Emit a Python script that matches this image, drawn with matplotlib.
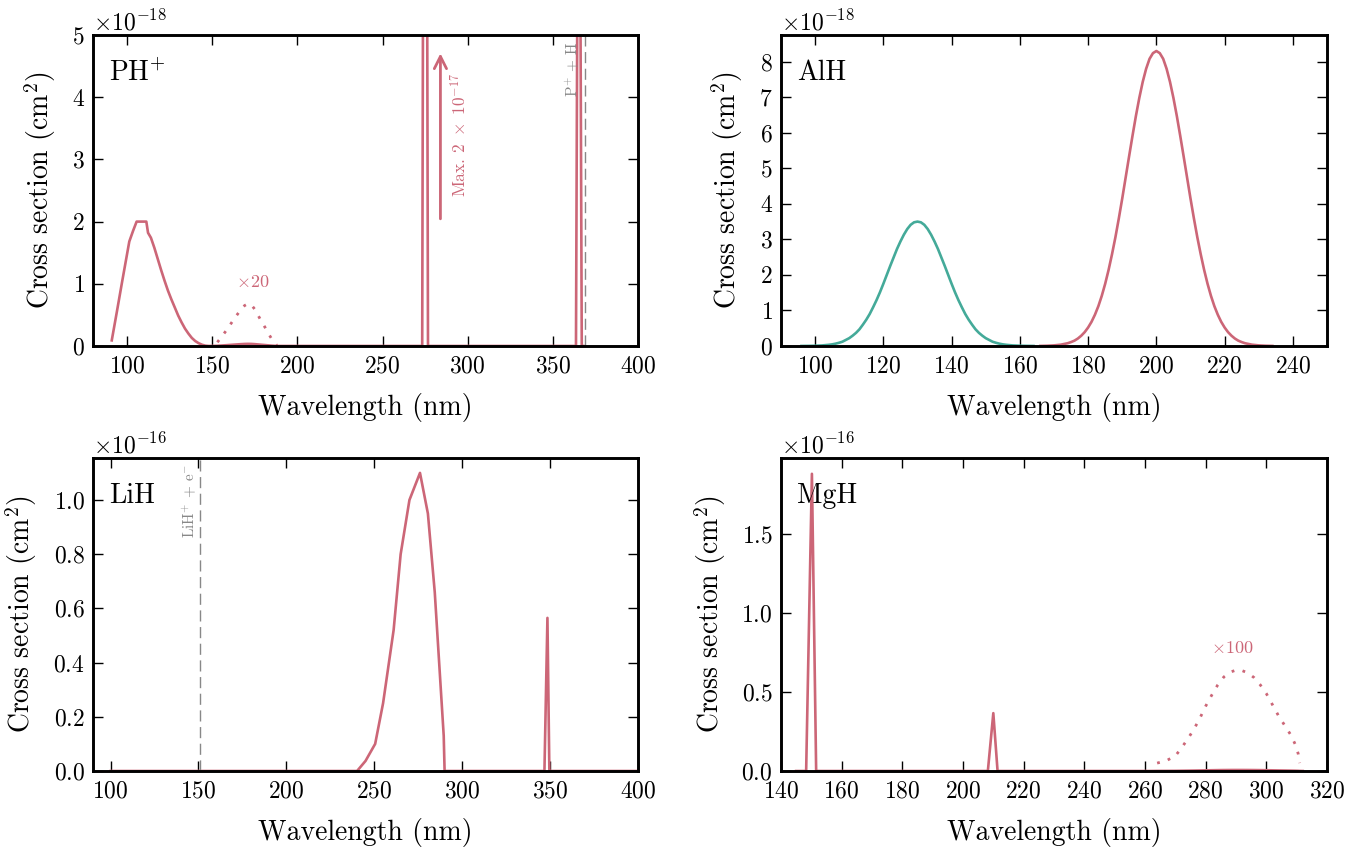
import matplotlib.pyplot as plt
from matplotlib.ticker import MultipleLocator

plt.rcParams.update({
    'font.family': 'serif',
    'font.serif': ['cmr10'],
    'mathtext.fontset': 'cm',
    'axes.formatter.use_mathtext': True,
    'axes.unicode_minus': False,
    'xtick.direction': 'in', 'ytick.direction': 'in',
    'xtick.top': True, 'ytick.right': True,
    'xtick.major.size': 7.5, 'ytick.major.size': 7.5,
    'xtick.major.width': 1.0, 'ytick.major.width': 1.0,
    'xtick.major.pad': 7, 'ytick.major.pad': 6,
    'xtick.labelsize': 17, 'ytick.labelsize': 17,
    'axes.linewidth': 2.1,
    'axes.labelsize': 20,
})

red = '#CC6677'
teal = '#44AA99'
grey = '#888888'

# PH+ (units of 1e-18 cm^2)
ph_main_wl = [91, 94, 97, 100, 101.3, 103.5, 105.6, 111.3, 112.3, 114, 116, 118, 120, 122, 124,
              126, 128, 130, 132, 134, 136, 138, 140, 142, 144, 146, 148]
ph_main_cs = [0.09, 0.55, 1.02, 1.48, 1.68, 1.85, 2.0, 2.0, 1.82, 1.74, 1.58, 1.40, 1.22, 1.05, 0.89,
              0.75, 0.62, 0.49, 0.38, 0.28, 0.20, 0.13, 0.08, 0.045, 0.02, 0.005, 0.0]
ph_bump_wl = [153, 155, 158, 161, 164, 167, 169, 171, 173, 175, 177, 179, 181, 183, 185, 187, 188]
ph_bump_x20 = [0.06, 0.13, 0.24, 0.36, 0.48, 0.59, 0.65, 0.68, 0.66, 0.59, 0.49, 0.39, 0.30,
               0.20, 0.11, 0.04, 0.01]
ph_lines_wl = [273.3, 275, 276.7, 363.6, 365.3, 367, 368]
ph_lines_cs = [0, 20, 0, 0, 12, 0, 0]
ph_threshold = 369

# AlH (units of 1e-18 cm^2), one side of each band, bands are symmetric
alh_offsets = [0, 1, 2, 3, 4, 5, 6, 7, 8, 9, 10, 11, 12, 13, 14, 15, 16, 17, 18, 19, 20,
               21, 22, 23, 24, 25, 26, 28, 30, 32, 34]
alh_half_a = [3.50, 3.48, 3.41, 3.29, 3.13, 2.94, 2.73, 2.49, 2.25, 2.00, 1.75, 1.51, 1.29, 1.09,
              0.90, 0.74, 0.60, 0.47, 0.37, 0.29, 0.22, 0.17, 0.12, 0.09, 0.065, 0.046, 0.033,
              0.015, 0.007, 0.003, 0.001]
alh_half_b = [8.30, 8.24, 8.08, 7.80, 7.43, 6.98, 6.47, 5.91, 5.33, 4.74, 4.15, 3.59, 3.06, 2.58,
              2.14, 1.75, 1.41, 1.12, 0.88, 0.68, 0.52, 0.39, 0.29, 0.21, 0.15, 0.11, 0.077,
              0.037, 0.017, 0.007, 0.002]
alh_peak_a = 130
alh_peak_b = 200

# LiH (units of 1e-16 cm^2)
lih_wl = [100, 240.2, 245, 250.5, 255, 261, 265, 270, 276, 280.5, 284.4, 289.5, 290,
          346.8, 348.5, 349.6, 400]
lih_cs = [0, 0, 0.037, 0.10, 0.25, 0.52, 0.80, 1.0, 1.10, 0.95, 0.66, 0.13, 0,
          0, 0.565, 0, 0]
lih_threshold = 151

# MgH (units of 1e-16 cm^2)
mgh_lines_wl = [145, 148.3, 150.2, 151.6, 208.2, 210.0, 211.4, 262]
mgh_lines_cs = [0, 0, 1.88, 0, 0, 0.366, 0, 0]
mgh_bump_wl = [264, 267, 270, 272, 274, 276, 278, 280, 282, 284, 286, 288, 290, 292, 294, 296,
               298, 300, 302, 304, 306, 308, 309.5, 310.5, 311]
mgh_bump_x100 = [0.05, 0.065, 0.095, 0.145, 0.20, 0.26, 0.33, 0.41, 0.48, 0.545, 0.595, 0.625,
                 0.638, 0.635, 0.62, 0.59, 0.545, 0.49, 0.42, 0.35, 0.29, 0.23, 0.17, 0.11, 0.05]

fig = plt.figure(figsize=(13.62, 8.48), dpi=100)
ax1 = fig.add_axes([0.0683, 0.5920, 0.4001, 0.3667])
ax2 = fig.add_axes([0.5734, 0.5920, 0.4009, 0.3667])
ax3 = fig.add_axes([0.0683, 0.0908, 0.4001, 0.3691])
ax4 = fig.add_axes([0.5734, 0.0908, 0.4009, 0.3691])

lw = 1.9
dots = (0, (1, 3))
dashes = (0, (8, 4))

# PH+
e18 = 1e-18
ph_wl = ph_main_wl + ph_bump_wl + ph_lines_wl
ph_cs = ph_main_cs + [v / 20 for v in ph_bump_x20] + ph_lines_cs
ax1.plot(ph_wl, [v * e18 for v in ph_cs], color=red, lw=lw)
ax1.plot(ph_bump_wl, [v * e18 for v in ph_bump_x20], color=red, lw=2, ls=dots)
ax1.axvline(ph_threshold, color=grey, lw=1, ls=dashes)
ax1.annotate('', xy=(284, 4.75 * e18), xytext=(284, 2.0 * e18),
             arrowprops=dict(arrowstyle='->', color=red, lw=2, mutation_scale=22))
ax1.text(295, 2.4 * e18, r'Max. $2\ \times\ 10^{-17}$', rotation=90, color=red,
         fontsize=12.5, ha='center', va='bottom')
ax1.text(361.5, 4.9 * e18, r'P$^{+}$ + H', rotation=90, color=grey,
         fontsize=11, ha='center', va='top')
ax1.text(173.5, 0.9 * e18, r'$\times$20', color=red, fontsize=13, ha='center', va='bottom')
ax1.text(0.03, 0.92, r'PH$^{+}$', transform=ax1.transAxes, fontsize=20, va='top')
ax1.set_xlim(80, 400)
ax1.set_ylim(0, 5 * e18)
ax1.xaxis.set_major_locator(MultipleLocator(50))
ax1.yaxis.set_major_locator(MultipleLocator(1 * e18))

# AlH
for peak, half, col in [(alh_peak_a, alh_half_a, teal), (alh_peak_b, alh_half_b, red)]:
    wl = [peak - d for d in alh_offsets[::-1]] + [peak + d for d in alh_offsets[1:]]
    cs = half[::-1] + half[1:]
    ax2.plot(wl, [v * e18 for v in cs], color=col, lw=lw)
ax2.text(0.03, 0.92, 'AlH', transform=ax2.transAxes, fontsize=20, va='top')
ax2.set_xlim(90, 250)
ax2.set_ylim(0, 8.75 * e18)
ax2.xaxis.set_major_locator(MultipleLocator(20))
ax2.yaxis.set_major_locator(MultipleLocator(1 * e18))

# LiH
e16 = 1e-16
ax3.plot(lih_wl, [v * e16 for v in lih_cs], color=red, lw=lw)
ax3.axvline(lih_threshold, color=grey, lw=1, ls=dashes)
ax3.text(144.5, 1.135 * e16, r'LiH$^{+}$ + e$^{-}$', rotation=90, color=grey,
         fontsize=11, ha='center', va='top')
ax3.text(0.03, 0.92, 'LiH', transform=ax3.transAxes, fontsize=20, va='top')
ax3.set_xlim(90, 400)
ax3.set_ylim(0, 1.155 * e16)
ax3.xaxis.set_major_locator(MultipleLocator(50))
ax3.yaxis.set_major_locator(MultipleLocator(0.2 * e16))

# MgH
mgh_wl = mgh_lines_wl + mgh_bump_wl + [312]
mgh_cs = mgh_lines_cs + [v / 100 for v in mgh_bump_x100] + [0]
ax4.plot(mgh_wl, [v * e16 for v in mgh_cs], color=red, lw=lw)
ax4.plot(mgh_bump_wl, [v * e16 for v in mgh_bump_x100], color=red, lw=2, ls=dots)
ax4.text(288.7, 0.73 * e16, r'$\times$100', color=red, fontsize=13, ha='center', va='bottom')
ax4.text(0.03, 0.92, 'MgH', transform=ax4.transAxes, fontsize=20, va='top')
ax4.set_xlim(140, 320)
ax4.set_ylim(0, 1.98 * e16)
ax4.xaxis.set_major_locator(MultipleLocator(20))
ax4.yaxis.set_major_locator(MultipleLocator(0.5 * e16))

for ax in (ax1, ax2, ax3, ax4):
    ax.ticklabel_format(axis='y', style='sci', scilimits=(0, 0), useMathText=True)
    ax.set_xlabel('Wavelength (nm)', labelpad=11)
    ax.set_ylabel('Cross section (cm$^2$)', labelpad=10)

fig.savefig('out.png', dpi=100)
